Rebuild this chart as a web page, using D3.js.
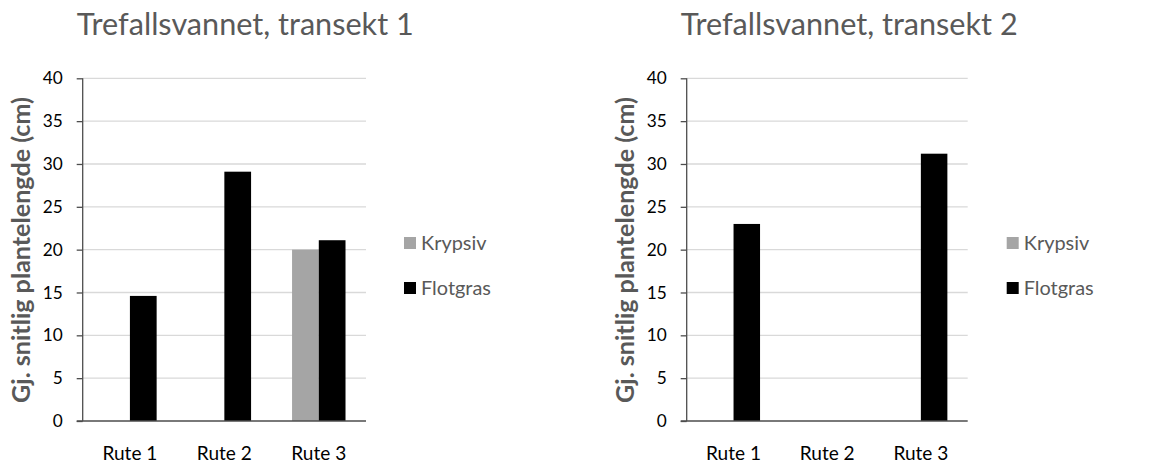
<!DOCTYPE html>
<html>
<head>
<meta charset="utf-8">
<script src="https://cdn.jsdelivr.net/npm/d3@7"></script>
<style>
  html, body { margin: 0; padding: 0; background: #fff; }
  svg { display: block; }
  text { font-family: Lato, "Open Sans", sans-serif; }
</style>
</head>
<body>
<svg id="chart" width="1149" height="464"></svg>
<script>
// ---- data ----
const categories = ["Rute 1", "Rute 2", "Rute 3"];
const seriesNames = ["Krypsiv", "Flotgras"];
const t1Krypsiv = [null, null, 20.0];
const t1Flotgras = [14.6, 29.1, 21.1];
const t2Krypsiv = [null, null, null];
const t2Flotgras = [23.0, null, 31.2];
const yTicks = [0, 5, 10, 15, 20, 25, 30, 35, 40];
const titles = ["Trefallsvannet, transekt 1", "Trefallsvannet, transekt 2"];
const yTitle = "Gj. snitlig plantelengde (cm)";

const colors = { "Krypsiv": "#a5a5a5", "Flotgras": "#000000" };

const svg = d3.select("#chart");

// measure helper to fit font sizes to target widths
function fitSize(str, weight, targetW) {
  const t = svg.append("text").attr("font-size", 100).attr("font-weight", weight).text(str);
  const w = t.node().getComputedTextLength();
  t.remove();
  return 100 * targetW / w;
}
const titleSize = fitSize(titles[0], 400, 337);
const yTitleSize = fitSize(yTitle, 700, 306);
const catSize = fitSize("Rute 1", 400, 55);
const tickSize = fitSize("40", 400, 20);
const legSize = fitSize("Flotgras", 400, 70);

const panels = [
  { title: titles[0], data: { "Krypsiv": t1Krypsiv, "Flotgras": t1Flotgras },
    x0: 82.7, x1: 366, titleX: 245.3, yTitleX: 29.5, legX: 404 },
  { title: titles[1], data: { "Krypsiv": t2Krypsiv, "Flotgras": t2Flotgras },
    x0: 686.7, x1: 967.7, titleX: 849.2, yTitleX: 633.5, legX: 1006.7 }
];
const yTop = 78.3, yBot = 421;

panels.forEach(p => {
  const g = svg.append("g");
  const x = d3.scaleBand().domain(categories).range([p.x0, p.x1]).padding(0);
  const y = d3.scaleLinear().domain([0, 40]).range([yBot, yTop]);
  const bw = x.bandwidth() * 0.283;
  const xs = d3.scaleBand().domain(seriesNames).range([-bw, bw]).padding(0);

  // gridlines
  g.append("g").selectAll("line").data(yTicks.filter(d => d > 0)).join("line")
    .attr("x1", p.x0).attr("x2", p.x1)
    .attr("y1", d => y(d)).attr("y2", d => y(d))
    .attr("stroke", "#d9d9d9").attr("stroke-width", 1.3);

  // bars
  const rows = [];
  categories.forEach((c, i) => seriesNames.forEach(s => {
    const v = p.data[s][i];
    if (v != null) rows.push({ c, s, v });
  }));
  g.append("g").selectAll("rect").data(rows).join("rect")
    .attr("x", d => x(d.c) + x.bandwidth() / 2 + xs(d.s))
    .attr("width", xs.bandwidth())
    .attr("y", d => y(d.v))
    .attr("height", d => y(0) - y(d.v))
    .attr("fill", d => colors[d.s]);

  // y axis
  const yAxis = d3.axisLeft(y).tickValues(yTicks).tickSize(6).tickPadding(14).tickFormat(d3.format("d"));
  const ya = g.append("g").attr("transform", `translate(${p.x0},0)`).call(yAxis);
  ya.select(".domain").attr("stroke", "#4d4d4d").attr("stroke-width", 1.3).attr("d", `M0,${yTop}V${yBot}`);
  ya.selectAll(".tick line").attr("stroke", "#4d4d4d").attr("stroke-width", 1.3);
  ya.selectAll(".tick text").attr("font-size", tickSize).attr("fill", "#000")
    .attr("font-family", "Lato, 'Open Sans', sans-serif");

  // x axis baseline
  g.append("line").attr("x1", p.x0 - 6).attr("x2", p.x1)
    .attr("y1", yBot).attr("y2", yBot).attr("stroke", "#4d4d4d").attr("stroke-width", 1.3);

  // category labels
  g.append("g").selectAll("text").data(categories).join("text")
    .attr("x", d => x(d) + x.bandwidth() / 2)
    .attr("y", 460)
    .attr("text-anchor", "middle")
    .attr("font-size", catSize)
    .attr("fill", "#000")
    .text(d => d);

  // title
  g.append("text").attr("x", p.titleX).attr("y", 35)
    .attr("text-anchor", "middle").attr("font-size", titleSize)
    .attr("fill", "#595959").text(p.title);

  // y title
  g.append("text")
    .attr("transform", `translate(${p.yTitleX},250) rotate(-90)`)
    .attr("text-anchor", "middle").attr("font-size", yTitleSize)
    .attr("font-weight", 700).attr("fill", "#595959").text(yTitle);

  // legend
  const leg = g.append("g").selectAll("g").data(seriesNames).join("g")
    .attr("transform", (d, i) => `translate(${p.legX},${237 + i * 45})`);
  leg.append("rect").attr("width", 12).attr("height", 12).attr("fill", d => colors[d]);
  leg.append("text").attr("x", 17).attr("y", 13).attr("font-size", legSize)
    .attr("fill", "#595959").text(d => d);
});
</script>
</body>
</html>
